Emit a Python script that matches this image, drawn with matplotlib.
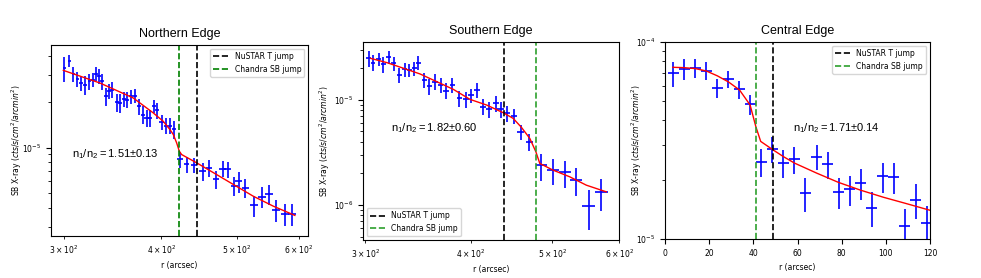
import numpy as np
import matplotlib.pyplot as plt
from matplotlib.ticker import NullFormatter

# ---------------- Northern edge ----------------
north_r = [300.6, 305.1, 308.7, 312.4, 315.8, 319.5, 323.6, 326.8, 330.0, 332.9,
           335.6, 339.6, 342.9, 346.3, 350.8, 354.2, 358.8, 362.0, 365.9, 370.2,
           374.7, 378.7, 383.2, 387.4, 392.0, 395.4, 400.5, 405.6, 410.5, 415.8,
           422.8, 431.2, 441.0, 452.0, 460.5, 470.1, 479.4, 486.5, 496.1, 503.0,
           512.9, 526.2, 538.8, 550.0, 562.0, 576.0, 589.2]
north_rerr = [1.5, 1.5, 1.6, 1.6, 1.7, 1.7, 1.7, 1.8, 1.8, 1.8,
              1.9, 1.9, 2.0, 2.0, 2.0, 2.1, 2.1, 2.1, 2.2, 2.2,
              2.3, 2.3, 2.4, 2.4, 2.4, 2.5, 2.5, 2.6, 2.6, 2.7,
              3.2, 3.5, 4.0, 4.2, 4.4, 4.6, 4.8, 5.0, 5.2, 5.4,
              5.6, 5.8, 6.0, 6.2, 6.5, 6.8, 7.0]
north_sb = [3.343e-5, 3.736e-5, 3.037e-5, 2.830e-5, 2.663e-5, 2.597e-5, 2.732e-5, 2.802e-5, 3.068e-5, 2.947e-5,
            2.732e-5, 2.177e-5, 2.348e-5, 2.408e-5, 1.988e-5, 1.968e-5, 2.090e-5, 2.069e-5, 2.177e-5, 2.198e-5,
            1.870e-5, 1.649e-5, 1.568e-5, 1.568e-5, 1.870e-5, 1.760e-5, 1.468e-5, 1.395e-5, 1.395e-5, 1.327e-5,
            8.34e-6, 7.73e-6, 7.65e-6, 6.99e-6, 7.35e-6, 6.16e-6, 7.24e-6, 7.17e-6, 5.57e-6, 6.00e-6,
            5.43e-6, 4.15e-6, 4.74e-6, 4.91e-6, 3.87e-6, 3.62e-6, 3.62e-6]
north_err = [6.3e-6, 3.3e-6, 3.4e-6, 3.1e-6, 3.2e-6, 3.6e-6, 3.2e-6, 3.1e-6, 3.2e-6, 3.3e-6,
             3.2e-6, 2.9e-6, 2.7e-6, 2.8e-6, 2.7e-6, 2.7e-6, 2.5e-6, 2.4e-6, 2.3e-6, 2.4e-6,
             2.3e-6, 2.3e-6, 2.0e-6, 2.0e-6, 1.9e-6, 2.1e-6, 1.7e-6, 1.6e-6, 1.6e-6, 1.8e-6,
             1.0e-6, 9.6e-7, 8.8e-7, 9.6e-7, 9.6e-7, 8.0e-7, 8.8e-7, 9.0e-7, 8.0e-7, 9.5e-7,
             8.0e-7, 6.6e-7, 7.5e-7, 7.5e-7, 6.3e-7, 6.0e-7, 6.0e-7]
north_model_r = [299.7, 333.9, 368.4, 390.8, 402.4, 410.5, 414.6, 418.7, 422.0, 424.9,
                 444.1, 471.0, 494.9, 524.8, 556.7, 593.4]
north_model = [3.227e-5, 2.663e-5, 2.122e-5, 1.691e-5, 1.490e-5, 1.314e-5, 1.218e-5, 1.073e-5, 9.46e-6, 8.99e-6,
               7.93e-6, 6.64e-6, 5.71e-6, 4.78e-6, 4.11e-6, 3.57e-6]
north_nustar = 444.0
north_chandra = 421.8

# ---------------- Southern edge ----------------
south_r = [302.7, 306.3, 311.0, 315.2, 319.6, 324.0, 329.1, 333.9, 338.1, 342.8,
           346.8, 352.2, 357.4, 362.9, 368.6, 374.0, 380.5, 387.9, 394.6, 400.4,
           406.6, 413.3, 420.5, 428.2, 434.1, 442.0, 450.5, 458.8, 469.3, 485.4,
           501.0, 517.2, 533.9, 552.1, 571.5]
south_rerr = [2.0, 2.0, 2.1, 2.1, 2.2, 2.2, 2.3, 2.3, 2.4, 2.4,
              2.5, 2.5, 2.6, 2.6, 2.7, 2.8, 2.9, 3.0, 3.1, 3.2,
              3.3, 3.4, 3.5, 3.6, 3.7, 3.8, 4.0, 4.2, 4.5, 7.5,
              8.0, 8.5, 9.0, 9.5, 10.0]
south_sb = [2.475e-5, 2.251e-5, 2.421e-5, 2.170e-5, 2.530e-5, 2.218e-5, 1.718e-5, 1.945e-5, 1.917e-5, 1.989e-5,
            2.251e-5, 1.539e-5, 1.349e-5, 1.484e-5, 1.379e-5, 1.218e-5, 1.379e-5, 1.030e-5, 1.007e-5, 1.108e-5,
            1.236e-5, 8.58e-6, 8.15e-6, 9.23e-6, 8.15e-6, 7.41e-6, 7.04e-6, 4.96e-6, 3.98e-6, 2.386e-6,
            2.139e-6, 2.032e-6, 1.717e-6, 9.78e-7, 1.330e-6]
south_err = [4.3e-6, 3.9e-6, 3.4e-6, 3.8e-6, 3.5e-6, 3.3e-6, 2.7e-6, 2.9e-6, 2.8e-6, 3.1e-6,
             3.3e-6, 2.4e-6, 2.3e-6, 2.6e-6, 2.2e-6, 2.1e-6, 2.2e-6, 1.8e-6, 1.7e-6, 1.7e-6,
             1.9e-6, 1.5e-6, 1.4e-6, 1.6e-6, 1.4e-6, 1.3e-6, 1.2e-6, 8.0e-7, 7.5e-7, 6.9e-7,
             6.0e-7, 5.9e-7, 5.0e-7, 4.0e-7, 4.5e-7]
south_model_r = [304.1, 318.2, 333.0, 348.4, 364.6, 381.5, 399.3, 417.8, 437.2, 449.3,
                 459.6, 470.2, 478.0, 483.2, 501.0, 524.4, 548.7, 579.4]
south_model = [2.475e-5, 2.251e-5, 1.989e-5, 1.756e-5, 1.484e-5, 1.254e-5, 1.007e-5, 8.90e-6, 7.52e-6, 6.64e-6,
               5.45e-6, 4.28e-6, 3.20e-6, 2.475e-6, 2.139e-6, 1.848e-6, 1.539e-6, 1.330e-6]
south_nustar = 438.0
south_chandra = 478.0

# ---------------- Central edge ----------------
central_r = [3.6, 8.6, 13.6, 18.6, 23.6, 28.6, 33.6, 38.6, 43.6, 48.6,
             53.6, 58.6, 63.6, 68.6, 73.6, 78.6, 83.6, 88.6, 93.6, 98.6,
             103.6, 108.6, 113.6, 118.6]
central_rerr = [2.5] * 24
central_sb = [6.94e-5, 7.30e-5, 7.38e-5, 7.16e-5, 5.87e-5, 6.47e-5, 5.76e-5, 4.83e-5, 2.475e-5, 2.87e-5,
              2.43e-5, 2.54e-5, 1.71e-5, 2.62e-5, 2.40e-5, 1.73e-5, 1.79e-5, 1.92e-5, 1.435e-5, 2.08e-5,
              2.06e-5, 1.16e-5, 1.58e-5, 1.205e-5]
central_err = [1.0e-5, 0.9e-5, 0.8e-5, 0.72e-5, 0.65e-5, 0.65e-5, 0.6e-5, 0.55e-5, 0.4e-5, 0.44e-5,
               0.4e-5, 0.4e-5, 0.33e-5, 0.39e-5, 0.38e-5, 0.31e-5, 0.31e-5, 0.34e-5, 0.29e-5, 0.36e-5,
               0.36e-5, 0.26e-5, 0.32e-5, 0.27e-5]
central_model_r = [3.5, 8.3, 13.6, 18.6, 23.7, 28.7, 33.7, 38.5, 41.1, 43.3,
                   48.8, 53.6, 58.6, 68.7, 78.5, 88.6, 98.9, 108.7, 120.0]
central_model = [7.44e-5, 7.41e-5, 7.33e-5, 7.13e-5, 6.73e-5, 6.27e-5, 5.71e-5, 4.79e-5, 3.72e-5, 3.13e-5,
                 2.84e-5, 2.62e-5, 2.43e-5, 2.16e-5, 1.94e-5, 1.77e-5, 1.63e-5, 1.52e-5, 1.40e-5]
central_nustar = 49.0
central_chandra = 41.0

ratio_text = [r'$\mathregular{n_1/n_2 = 1.51{\pm}0.13}$',
              r'$\mathregular{n_1/n_2 = 1.82{\pm}0.60}$',
              r'$\mathregular{n_1/n_2 = 1.71{\pm}0.14}$']

plt.rcParams['font.size'] = 5.5
plt.rcParams['xtick.labelsize'] = 5.5
plt.rcParams['ytick.labelsize'] = 5.5

fig = plt.figure(figsize=(9.81, 2.78), dpi=100)
ax1 = fig.add_axes([0.052, 0.151, 0.262, 0.687])
ax2 = fig.add_axes([0.370, 0.137, 0.261, 0.712])
ax3 = fig.add_axes([0.678, 0.140, 0.270, 0.709])


def panel(ax, r, rerr, sb, err, mr, model, nustar, chandra, green, title, txt, txtpos, legloc, ylab_x):
    ax.errorbar(r, sb, xerr=rerr, yerr=err, fmt='none', ecolor='blue', elinewidth=1.2)
    ax.plot(mr, model, color='red', linewidth=1)
    ax.axvline(nustar, color='k', linestyle='--', linewidth=1.2, label='NuSTAR T jump')
    ax.axvline(chandra, color=green, linestyle='--', linewidth=1.2, label='Chandra SB jump')
    ax.set_yscale('log')
    ax.yaxis.set_minor_formatter(NullFormatter())
    ax.set_title(title, fontsize=9, family='Liberation Sans')
    ax.set_xlabel('r (arcsec)', fontsize=5.5)
    ax.set_ylabel('SB X-ray ($cts/s/cm^2/arcmin^2$)', fontsize=5.5)
    ax.yaxis.set_label_coords(ylab_x, 0.5)
    ax.text(txtpos[0], txtpos[1], txt, transform=ax.transAxes, fontsize=8,
            family='Liberation Sans', va='center')
    ax.legend(loc=legloc, fontsize=5.5)


panel(ax1, north_r, north_rerr, north_sb, north_err, north_model_r, north_model,
      north_nustar, north_chandra, 'green', 'Northern Edge', ratio_text[0], (0.08, 0.43),
      'upper right', -0.105)
ax1.set_xscale('log')
ax1.set_xlim(289, 617)
ax1.set_ylim(2.61e-6, 4.74e-5)

panel(ax2, south_r, south_rerr, south_sb, south_err, south_model_r, south_model,
      south_nustar, south_chandra, 'tab:green', 'Southern Edge', ratio_text[1], (0.11, 0.567),
      'lower left', -0.120)
ax2.set_xscale('log')
ax2.set_xlim(298, 600)
ax2.set_ylim(4.64e-7, 3.54e-5)

panel(ax3, central_r, central_rerr, central_sb, central_err, central_model_r, central_model,
      central_nustar, central_chandra, 'tab:green', 'Central Edge', ratio_text[2], (0.482, 0.565),
      'upper right', -0.081)
ax3.set_xlim(0, 120)
ax3.set_ylim(1e-5, 1e-4)

plt.savefig('out.png', dpi=100)
